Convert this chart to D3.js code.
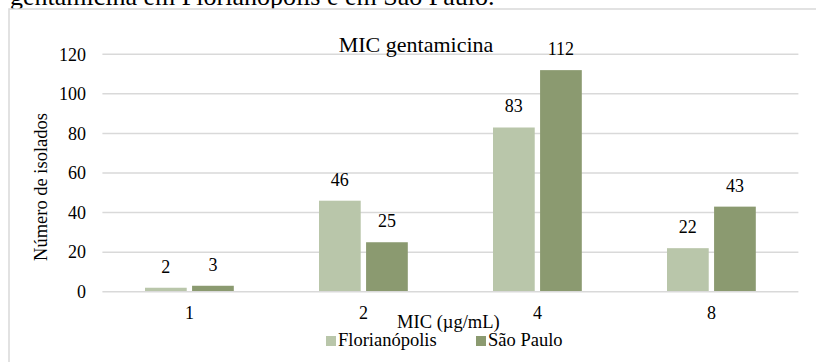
<!DOCTYPE html>
<html>
<head>
<meta charset="utf-8">
<script src="https://cdn.jsdelivr.net/npm/d3@7"></script>
<style>
  html, body { margin: 0; padding: 0; background: #fff; }
  svg { display: block; }
  svg text { font-family: "Liberation Serif", "Times New Roman", serif !important; fill: #000; }
</style>
</head>
<body>
<svg id="chart" width="816" height="362"></svg>
<script>
// MIC values tested and number of isolates per city
const categories = ["1", "2", "4", "8"];
const seriesNames = ["Florianópolis", "São Paulo"];
const florianopolis = [2, 46, 83, 22];
const saoPaulo = [3, 25, 112, 43];
const yTicks = [0, 20, 40, 60, 80, 100, 120];
const seriesColors = ["#b9c6aa", "#8b9a70"];

const svg = d3.select("#chart");
const W = 816, H = 362;

// caption line above the chart frame (partly clipped at the top)
svg.append("text")
  .attr("x", 10).attr("y", 5)
  .attr("font-size", 26)
  .text("gentamicina em Florianópolis e em São Paulo.");

// chart frame (white fill hides the caption's descenders)
svg.append("rect")
  .attr("x", 9).attr("y", 9)
  .attr("width", W + 10).attr("height", H + 10)
  .attr("fill", "#fff")
  .attr("stroke", "#d9d9d9")
  .attr("stroke-width", 1.5);

const plot = { left: 102.4, right: 798.4, top: 54.3, bottom: 291.7 };

const x0 = d3.scaleBand()
  .domain(categories)
  .range([plot.left, plot.right])
  .paddingInner(0)
  .paddingOuter(0);

const x1 = d3.scaleBand()
  .domain(seriesNames)
  .range([42.6, x0.bandwidth() - 42.6])
  .paddingInner(10 / 88);

const y = d3.scaleLinear().domain([0, 120]).range([plot.bottom, plot.top]);

// horizontal gridlines
svg.append("g")
  .selectAll("line")
  .data(yTicks)
  .join("line")
  .attr("x1", plot.left).attr("x2", plot.right)
  .attr("y1", d => y(d)).attr("y2", d => y(d))
  .attr("stroke", "#d9d9d9")
  .attr("stroke-width", 1.5);

// y axis labels
const yAxis = d3.axisLeft(y).tickValues(yTicks).tickSize(0).tickPadding(0);
const gy = svg.append("g")
  .attr("transform", `translate(86,0)`)
  .call(yAxis);
gy.select(".domain").remove();
gy.selectAll("text").attr("font-size", 18);

// y axis title
svg.append("text")
  .attr("transform", "translate(46.5,187) rotate(-90)")
  .attr("text-anchor", "middle")
  .attr("font-size", 18.5)
  .text("Número de isolados");

// x axis labels
const xAxis = d3.axisBottom(x0).tickSize(0).tickPadding(0);
const gx = svg.append("g")
  .attr("transform", `translate(0,${plot.bottom})`)
  .call(xAxis);
gx.select(".domain").remove();
gx.selectAll("text")
  .attr("dy", null)
  .attr("y", 27.8)
  .attr("font-size", 18);

// bars
const rows = categories.map((c, i) => ({
  cat: c,
  values: [
    { name: seriesNames[0], value: florianopolis[i] },
    { name: seriesNames[1], value: saoPaulo[i] }
  ]
}));

const groups = svg.append("g")
  .selectAll("g")
  .data(rows)
  .join("g")
  .attr("transform", d => `translate(${x0(d.cat)},0)`);

groups.selectAll("rect")
  .data(d => d.values)
  .join("rect")
  .attr("x", d => x1(d.name))
  .attr("width", x1.bandwidth())
  .attr("y", d => y(d.value))
  .attr("height", d => y(0) - y(d.value) - 0.7)
  .attr("fill", (d, i) => seriesColors[i]);

// value labels
groups.selectAll("text")
  .data(d => d.values)
  .join("text")
  .attr("x", d => x1(d.name) + x1.bandwidth() / 2)
  .attr("y", d => y(d.value) - 15)
  .attr("text-anchor", "middle")
  .attr("font-size", 18)
  .text(d => d.value);

// chart title
svg.append("text")
  .attr("x", 416).attr("y", 51.5)
  .attr("text-anchor", "middle")
  .attr("font-size", 22)
  .text("MIC gentamicina");

// x axis title
svg.append("text")
  .attr("x", 448.4).attr("y", 328)
  .attr("text-anchor", "middle")
  .attr("font-size", 18.5)
  .text("MIC (µg/mL)");

// legend
const legendX = [326, 476];
const legend = svg.append("g")
  .selectAll("g")
  .data(seriesNames)
  .join("g")
  .attr("transform", (d, i) => `translate(${legendX[i]},336)`);
legend.append("rect")
  .attr("width", 10).attr("height", 10)
  .attr("fill", (d, i) => seriesColors[i]);
legend.append("text")
  .attr("x", 12).attr("y", 10)
  .attr("font-size", 18.5)
  .text(d => d);
</script>
</body>
</html>
